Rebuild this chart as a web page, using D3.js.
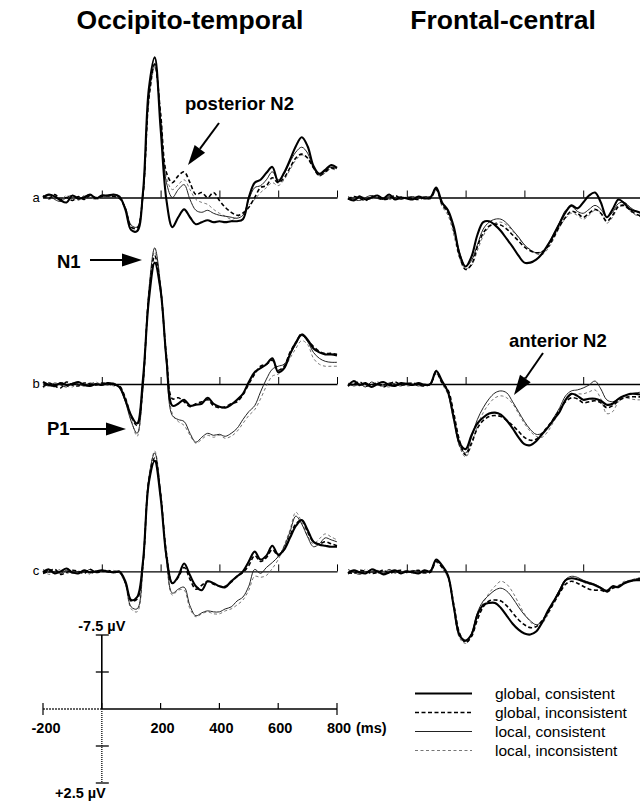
<!DOCTYPE html>
<html><head><meta charset="utf-8">
<script src="https://cdn.jsdelivr.net/npm/d3@7"></script>
<style>
body{margin:0;background:#fff}
svg{display:block}
text{font-family:"Liberation Sans",Arial,Helvetica,sans-serif;fill:#000}
</style>
</head><body>
<svg id="chart" width="640" height="802"></svg>
<script>
// ---- data ----
const times = [-200,-180,-160,-140,-120,-100,-80,-60,-40,-20,0,20,40,60,80,100,120,140,160,180,200,220,240,260,280,300,320,340,360,380,400,420,440,460,480,500,520,540,560,580,600,620,640,660,680,700,720,740,760,780,800];
const columnTitles = ["Occipito-temporal","Frontal-central"];
const rowLabels = ["a","b","c"];
const seriesNames = ["global, consistent","global, inconsistent","local, consistent","local, inconsistent"];
const xTicks = [0,200,400,600,800];
const barXTicks = [-200,0,200,400,600,800];
const barXLabels = ["-200","","200","400","600","800"];
const barYTicks = [-7.5,-3.75,0,3.75,7.5];
const barYLabels = ["-7.5 \u00b5V","+2.5 \u00b5V"];

// Occipito-temporal, row a
const GC_la = [0.0,-0.3,-0.1,0.3,0.5,-0.2,0.1,0.0,-0.3,0.1,-0.2,-0.2,-0.3,-0.1,1.2,3.3,3.4,-0.5,-11.0,-14.2,-7.0,0.3,3.0,2.0,1.2,2.0,2.7,2.5,2.3,2.5,2.4,2.5,2.4,2.4,2.2,0.0,-1.5,-1.8,-2.5,-3.1,-1.6,-2.5,-3.8,-5.2,-6.1,-5.2,-3.2,-2.4,-2.8,-3.3,-3.0];
const GI_la = [-0.2,0.1,-0.3,0.2,0.0,0.3,-0.1,0.2,-0.2,0.0,-0.1,-0.2,-0.1,0.1,1.1,3.0,3.1,-0.3,-10.0,-13.5,-8.5,-2.5,-1.5,-2.2,-2.6,-1.5,-0.3,-0.5,0.0,-0.5,0.3,1.0,1.5,1.8,1.6,1.0,0.0,-1.0,-1.2,-2.0,-1.5,-2.0,-3.0,-4.0,-4.4,-4.0,-3.0,-2.2,-2.6,-3.0,-2.8];
const LC_la = [0.1,-0.2,0.2,0.4,0.0,-0.2,0.2,-0.1,-0.3,0.1,-0.2,-0.1,-0.2,0.0,1.0,2.8,3.0,-0.2,-10.2,-13.6,-8.0,-1.5,0.0,-0.8,-1.3,0.2,1.3,1.5,1.3,1.6,1.8,1.9,2.0,2.1,1.8,0.2,-1.0,-1.2,-1.8,-2.6,-1.8,-2.4,-3.6,-4.6,-5.1,-4.5,-3.0,-2.3,-2.7,-3.1,-2.9];
const LI_la = [-0.1,0.2,0.0,0.2,-0.2,0.1,0.3,-0.2,0.0,0.2,0.0,-0.2,0.0,0.1,1.1,2.9,3.1,-0.1,-9.8,-13.2,-8.5,-2.0,-0.8,-1.3,-1.8,-0.8,0.2,0.5,0.7,1.2,1.6,1.9,2.2,2.0,1.5,0.8,0.2,-0.5,-1.0,-1.5,-1.2,-1.8,-2.8,-3.8,-4.3,-4.0,-3.0,-2.2,-2.5,-2.9,-2.7];

// Frontal-central, row a
const GC_ra = [0.1,0.3,-0.1,0.2,0.0,-0.2,0.1,-0.3,0.2,0.0,0.1,0.2,-0.1,0.1,0.0,-1.0,0.5,1.3,3.0,5.8,7.0,6.0,3.8,2.5,2.4,2.8,3.4,4.2,5.0,5.9,6.6,6.6,6.3,5.7,4.8,3.8,2.6,1.5,0.8,1.1,0.5,-0.2,-0.5,0.5,2.0,1.2,0.2,0.6,1.2,1.4,1.6];
const GI_ra = [0.2,-0.1,0.1,0.3,-0.1,0.0,0.2,0.1,-0.2,0.1,0.0,0.1,0.2,0.0,0.1,-0.8,0.7,1.5,3.3,6.0,7.3,6.8,5.0,3.6,2.9,2.7,2.8,3.2,3.8,4.4,5.0,5.4,5.6,5.5,5.0,4.0,2.9,2.0,1.4,1.6,2.0,1.6,1.2,1.6,2.4,1.8,0.9,0.8,1.3,1.7,1.9];
const LC_ra = [-0.1,0.2,0.3,0.0,-0.2,0.1,0.2,-0.1,0.0,0.2,0.0,-0.1,0.1,-0.1,-0.1,-0.9,0.6,1.4,3.2,5.6,7.0,6.4,4.8,3.2,2.5,2.2,2.2,2.6,3.3,4.0,4.8,5.3,5.6,5.5,4.8,3.6,2.5,1.3,0.9,1.4,1.6,1.2,0.8,1.2,2.0,1.5,0.6,0.5,1.0,1.4,1.6];
const LI_ra = [0.0,0.2,-0.2,0.1,0.2,-0.1,0.0,0.2,0.1,-0.1,0.1,0.0,-0.1,0.1,0.0,-0.7,0.9,1.8,3.8,6.2,7.2,6.9,5.4,3.9,3.0,2.6,2.5,2.8,3.4,4.1,4.8,5.3,5.7,5.8,5.2,4.2,3.0,2.1,1.6,1.8,2.2,1.8,1.3,1.5,2.6,2.0,1.0,0.9,1.4,1.8,2.0];

// Occipito-temporal, row b
const GC_lb = [-0.2,0.1,0.2,-0.1,0.1,0.0,-0.2,0.1,0.2,0.0,0.1,-0.1,0.0,0.3,1.6,3.2,4.0,-0.5,-8.5,-12.3,-9.5,-2.5,2.2,2.0,1.6,2.2,2.1,2.0,1.4,2.0,2.3,2.4,2.1,1.6,1.0,-0.2,-1.2,-1.6,-2.0,-2.6,-1.2,-1.6,-3.0,-4.2,-5.0,-4.5,-3.6,-3.2,-3.0,-3.0,-2.9];
const GI_lb = [0.3,-0.1,0.2,0.4,-0.2,0.1,0.2,-0.1,0.0,0.1,-0.1,0.0,0.1,0.2,1.4,3.3,4.2,-0.2,-9.0,-13.0,-9.5,-2.8,1.5,1.4,1.8,2.3,2.0,1.8,1.6,2.2,2.4,2.3,2.0,1.8,1.1,0.0,-1.0,-1.8,-2.0,-2.4,-1.4,-1.8,-3.2,-4.2,-5.1,-4.4,-3.8,-3.3,-3.1,-3.1,-3.0];
const LC_lb = [0.0,0.2,-0.1,0.1,0.3,-0.1,0.0,0.2,-0.1,0.1,0.0,0.1,-0.1,0.4,1.8,3.8,5.0,0.5,-9.5,-13.8,-10.0,-2.0,3.2,3.6,3.8,5.0,5.9,5.4,5.0,5.2,5.1,5.3,5.0,4.5,3.6,2.8,2.2,0.8,-0.5,-1.5,-1.8,-2.0,-3.0,-4.0,-4.9,-4.3,-3.2,-2.6,-2.3,-2.2,-2.2];
const LI_lb = [0.4,0.1,0.3,-0.2,0.2,0.3,-0.1,0.2,0.0,-0.2,0.1,0.0,0.2,0.3,1.7,3.6,5.3,0.6,-9.0,-13.4,-10.0,-2.2,3.0,3.8,4.2,5.2,6.0,5.6,5.2,5.4,5.2,5.5,5.3,4.8,4.0,3.2,2.6,1.5,0.2,-0.8,-1.0,-1.6,-2.6,-3.6,-4.4,-4.0,-2.6,-2.0,-1.8,-1.8,-1.8];

// Frontal-central, row b
const GC_rb = [0.2,-0.3,0.1,-0.1,0.3,0.0,-0.2,0.1,0.2,-0.1,0.0,0.1,-0.1,0.1,0.0,-1.3,-0.3,0.8,3.5,6.0,6.6,5.2,4.0,3.4,3.0,2.9,3.1,3.7,4.5,5.4,6.1,6.2,5.8,5.1,4.4,3.6,2.8,1.6,1.0,1.2,1.6,1.5,1.5,1.7,2.1,2.0,1.5,1.2,1.0,1.0,1.1];
const GI_rb = [0.1,0.0,-0.2,0.2,0.1,-0.1,0.3,0.0,-0.2,0.1,0.0,-0.1,0.1,0.2,0.0,-1.2,-0.1,0.6,3.0,5.8,7.2,6.0,4.5,3.7,3.3,3.2,3.3,3.7,4.2,4.8,5.4,5.7,5.6,5.0,4.3,3.5,2.6,1.8,1.4,1.5,1.9,1.8,1.7,1.9,2.4,2.2,1.7,1.4,1.3,1.3,1.3];
const LC_rb = [-0.1,0.2,0.0,0.3,-0.2,0.1,0.2,-0.1,0.0,0.2,-0.1,0.0,0.2,0.0,0.1,-1.4,-0.2,0.9,3.6,6.3,7.0,5.4,3.6,2.4,1.5,0.9,0.7,0.9,1.8,2.8,3.8,4.6,5.1,5.0,4.4,3.4,2.4,1.2,0.7,0.6,0.4,0.1,-0.3,0.5,1.6,1.8,1.5,1.2,1.0,0.9,0.8];
const LI_rb = [0.3,-0.1,0.2,0.0,0.2,-0.2,0.1,0.3,-0.1,0.0,0.2,0.1,-0.1,0.1,0.0,-1.0,0.0,1.1,3.8,6.4,7.4,6.2,4.3,2.9,2.0,1.4,1.2,1.4,2.0,3.0,4.0,4.8,5.3,5.4,4.8,3.8,2.8,1.7,1.1,1.0,1.0,0.8,0.6,1.5,3.0,2.8,1.8,1.4,1.5,1.6,1.6];

// Occipito-temporal, row c
const GC_lc = [0.1,-0.2,0.2,0.0,-0.3,0.1,0.2,-0.1,0.1,0.0,-0.1,0.0,0.1,0.0,1.0,2.9,2.6,-1.0,-9.0,-11.2,-7.5,-1.5,1.2,0.5,-0.8,0.4,1.5,1.9,1.0,1.2,1.5,1.6,1.0,0.5,0.0,-1.0,-2.0,-1.2,-1.6,-2.6,-1.7,-2.2,-3.4,-4.6,-5.2,-4.2,-3.0,-2.7,-2.6,-2.5,-2.5];
const GI_lc = [0.2,0.0,-0.2,0.3,0.1,-0.1,0.0,0.2,-0.2,0.1,0.0,-0.1,0.1,0.1,1.1,3.0,2.8,-0.8,-9.2,-11.5,-7.8,-1.8,1.2,0.6,-0.4,0.8,1.8,1.4,1.0,1.3,1.5,1.5,1.1,0.5,0.1,-0.6,-1.6,-1.0,-1.4,-2.2,-1.6,-2.2,-3.6,-4.8,-5.2,-4.0,-3.0,-2.8,-3.0,-2.8,-2.6];
const LC_lc = [-0.2,0.1,0.0,0.2,-0.1,0.2,0.0,0.1,-0.2,0.1,-0.1,0.1,0.0,0.1,1.2,3.6,3.8,-0.5,-9.5,-12.0,-8.0,-1.2,2.2,1.8,1.6,3.5,4.5,4.2,4.0,4.1,4.1,3.8,3.6,3.0,2.6,1.5,-0.2,0.2,-0.4,-0.9,-1.5,-2.5,-4.0,-5.6,-4.8,-3.5,-2.5,-2.8,-3.4,-3.2,-3.0];
const LI_lc = [-0.1,0.3,0.1,-0.2,0.2,0.0,0.1,-0.1,0.3,0.0,0.1,0.0,-0.1,0.2,1.3,3.8,4.1,-0.3,-9.3,-12.2,-8.2,-1.0,2.4,1.9,1.9,3.8,4.6,4.3,4.1,4.3,4.3,4.0,3.8,3.4,2.9,1.9,0.5,0.6,0.4,-0.3,-1.2,-2.6,-4.2,-6.0,-5.0,-3.6,-2.8,-3.3,-3.8,-3.5,-3.2];

// Frontal-central, row c
const GC_rc = [0.2,-0.1,0.1,0.2,-0.2,0.0,0.3,0.1,-0.1,0.2,0.0,0.1,0.2,-0.1,0.0,-1.2,-0.6,0.4,3.6,6.5,7.0,6.4,4.4,3.4,3.2,3.2,3.7,4.5,5.3,5.9,6.3,6.4,6.1,5.2,4.0,3.0,2.0,0.9,0.7,0.8,1.0,1.2,1.4,1.7,2.0,1.5,1.6,1.2,1.0,0.9,0.9];
const GI_rc = [0.1,0.2,-0.1,0.0,0.2,0.1,-0.1,0.2,0.0,-0.1,0.1,0.0,-0.1,0.1,0.1,-1.0,-0.4,0.5,3.4,6.3,7.2,6.6,4.9,3.6,3.0,2.9,3.0,3.5,4.2,4.9,5.4,5.7,5.6,5.0,4.2,3.2,2.2,1.3,1.0,1.2,1.5,1.8,1.9,1.9,2.1,1.7,1.5,1.2,1.0,0.8,0.7];
const LC_rc = [-0.2,0.1,0.3,0.0,0.1,-0.1,0.2,-0.2,0.1,0.0,0.1,-0.1,0.0,0.2,-0.1,-1.1,-0.5,0.5,3.8,6.6,7.1,6.3,4.2,3.0,2.4,1.9,1.7,2.0,2.7,3.6,4.4,5.0,5.4,5.1,4.2,3.0,1.8,0.8,0.5,0.6,0.9,1.1,1.3,1.6,1.9,1.6,1.5,1.1,0.9,0.8,0.8];
const LI_rc = [0.3,0.0,0.2,-0.2,0.1,0.2,0.0,-0.1,0.2,0.1,-0.1,0.2,0.0,0.0,0.1,-0.9,-0.3,0.7,3.9,6.8,7.3,6.5,4.6,3.2,2.2,1.5,1.0,1.3,2.1,3.2,4.3,5.1,5.6,5.3,4.4,3.2,2.0,1.0,0.7,0.8,1.1,1.3,1.4,1.7,2.1,1.7,1.4,1.0,0.9,0.7,0.6];

const panelData = [
  [[GC_la,GI_la,LC_la,LI_la],[GC_ra,GI_ra,LC_ra,LI_ra]],
  [[GC_lb,GI_lb,LC_lb,LI_lb],[GC_rb,GI_rb,LC_rb,LI_rb]],
  [[GC_lc,GI_lc,LC_lc,LI_lc],[GC_rc,GI_rc,LC_rc,LI_rc]]
];

// ---- layout & styles ----
const colX0 = [43, 348];
const titleX = [190, 503];
const panelW = 294;
const rowBase = [197.5, 384, 571.4];
const uvHalf = 74; // px for 7.5 uV
const styles = [
  {w:2.1, dash:null, color:"#000"},
  {w:1.6, dash:"4,2.5", color:"#000"},
  {w:1.0, dash:null, color:"#222"},
  {w:0.9, dash:"3,2.5", color:"#666"}
];

const svg = d3.select("#chart");

// titles
svg.selectAll("text.title").data(columnTitles).join("text")
  .attr("class","title")
  .attr("x",(d,i)=>titleX[i])
  .attr("y",29)
  .attr("text-anchor","middle")
  .attr("font-size",26.5)
  .attr("font-weight","bold")
  .text(d=>d);

// row labels
svg.selectAll("text.rowlab").data(rowLabels).join("text")
  .attr("class","rowlab")
  .attr("x",36).attr("y",(d,i)=>rowBase[i]+4)
  .attr("text-anchor","middle")
  .attr("font-size",13)
  .text(d=>d);

const line = d3.line().curve(d3.curveCatmullRom.alpha(0.5));

panelData.forEach((row, ri) => {
  row.forEach((seriesSet, ci) => {
    const x = d3.scaleLinear().domain([-200,800]).range([colX0[ci], colX0[ci]+panelW]);
    const y = d3.scaleLinear().domain([-7.5,7.5]).range([rowBase[ri]-uvHalf, rowBase[ri]+uvHalf]);
    const g = svg.append("g");
    const ax = g.append("g").attr("transform",`translate(0,${rowBase[ri]})`)
      .call(d3.axisTop(x).tickValues(xTicks).tickSize(7).tickSizeOuter(0).tickFormat(""));
    ax.select(".domain").attr("stroke","#000").attr("stroke-width",1.3);
    ax.selectAll(".tick line").attr("stroke","#000").attr("stroke-width",1);
    [3,2,1,0].forEach(si => {
      const vals = seriesSet[si];
      const st = styles[si];
      line.x((d,i)=>x(times[i])).y(d=>y(d));
      g.append("path")
        .attr("d", line(vals))
        .attr("fill","none")
        .attr("stroke",st.color)
        .attr("stroke-width",st.w)
        .attr("stroke-dasharray",st.dash)
        .attr("stroke-linejoin","round");
    });
  });
});

// ---- annotations ----
const arrows = [
  {text:"posterior N2", tx:185, ty:110, x1:219, y1:123, x2:188, y2:165},
  {text:"N1", tx:57, ty:268, x1:90, y1:260, x2:142, y2:260},
  {text:"P1", tx:47, ty:435, x1:70, y1:429, x2:126, y2:429},
  {text:"anterior N2", tx:509, ty:347, x1:543, y1:353, x2:514, y2:395}
];
svg.selectAll("text.ann").data(arrows).join("text")
  .attr("class","ann")
  .attr("x",d=>d.tx).attr("y",d=>d.ty)
  .attr("font-size",18.5).attr("font-weight","bold")
  .text(d=>d.text);
arrows.forEach(a => {
  const dx = a.x2-a.x1, dy = a.y2-a.y1, L = Math.hypot(dx,dy);
  const ux = dx/L, uy = dy/L, hl = 20, hw = 6.5;
  const bx = a.x2-ux*hl, by = a.y2-uy*hl;
  svg.append("line").attr("x1",a.x1).attr("y1",a.y1).attr("x2",bx).attr("y2",by)
    .attr("stroke","#000").attr("stroke-width",2);
  svg.append("path")
    .attr("d",`M${a.x2},${a.y2}L${bx-uy*hw},${by+ux*hw}L${bx+uy*hw},${by-ux*hw}Z`)
    .attr("fill","#000");
});

// ---- scale bar ----
const sbx = d3.scaleLinear().domain([-200,800]).range([43,337]);
const sby = d3.scaleLinear().domain([-7.5,7.5]).range([635,783]);
const sb = svg.append("g");
const y0 = sby(0), x0 = sbx(0);
sb.append("line").attr("x1",sbx(-200)).attr("x2",x0).attr("y1",y0).attr("y2",y0)
  .attr("stroke","#333").attr("stroke-width",1.6).attr("stroke-dasharray","2,1");
sb.append("line").attr("x1",x0).attr("x2",sbx(800)).attr("y1",y0).attr("y2",y0)
  .attr("stroke","#000").attr("stroke-width",1.6);
sb.selectAll("line.xt").data(barXTicks).join("line").attr("class","xt")
  .attr("x1",d=>sbx(d)).attr("x2",d=>sbx(d))
  .attr("y1",y0-6)
  .attr("y2",d=>(d===-200||d===800)?y0+6:y0)
  .attr("stroke","#000").attr("stroke-width",1.2);
sb.selectAll("text.xl").data(barXTicks).join("text").attr("class","xl")
  .attr("x",d=>sbx(d)+(d===-200?3:2)).attr("y",y0+24)
  .attr("text-anchor","middle").attr("font-size",14.5).attr("font-weight","bold")
  .text((d,i)=>barXLabels[i]);
sb.append("text").attr("x",sbx(800)+19).attr("y",y0+24)
  .attr("font-size",14.5).attr("font-weight","bold").text("(ms)");
sb.append("line").attr("x1",x0).attr("x2",x0).attr("y1",sby(-7.5)).attr("y2",y0)
  .attr("stroke","#000").attr("stroke-width",1.6);
sb.append("line").attr("x1",x0).attr("x2",x0).attr("y1",y0).attr("y2",sby(7.5))
  .attr("stroke","#333").attr("stroke-width",1.6).attr("stroke-dasharray","1,1");
sb.selectAll("line.yt").data(barYTicks.filter(d=>d!==0)).join("line").attr("class","yt")
  .attr("x1",x0-6).attr("x2",x0+7)
  .attr("y1",d=>sby(d)).attr("y2",d=>sby(d))
  .attr("stroke","#000").attr("stroke-width",1.3);
sb.append("text").attr("x",x0).attr("y",sby(-7.5)-4)
  .attr("text-anchor","middle").attr("font-size",14.5).attr("font-weight","bold").text(barYLabels[0]);
sb.append("text").attr("x",x0+4).attr("y",sby(7.5)+15)
  .attr("text-anchor","end").attr("font-size",14.5).attr("font-weight","bold").text(barYLabels[1]);

// ---- legend ----
const legY = d3.scaleBand().domain(seriesNames).range([684,760]);
const lg = svg.append("g");
seriesNames.forEach((name,i) => {
  const yy = legY(name)+legY.bandwidth()/2;
  const st = styles[i];
  lg.append("line").attr("x1",415).attr("x2",472).attr("y1",yy).attr("y2",yy)
    .attr("stroke",st.color).attr("stroke-width",st.w).attr("stroke-dasharray",st.dash);
  lg.append("text").attr("x",495).attr("y",yy+5).attr("font-size",15.5).text(name);
});
</script>
</body></html>
